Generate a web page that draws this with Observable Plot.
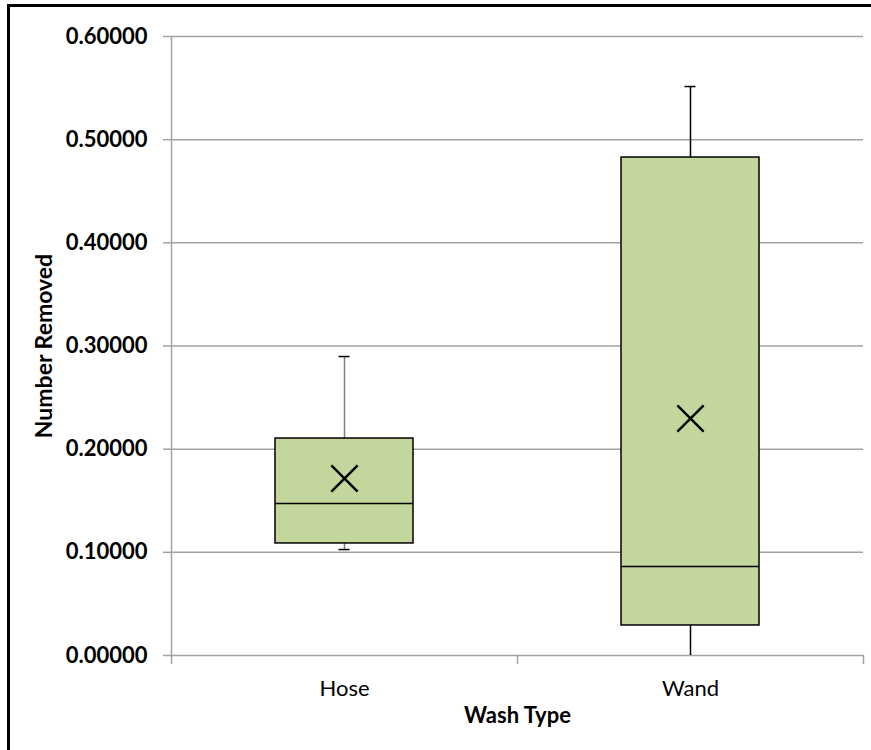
<!DOCTYPE html>
<html><head><meta charset="utf-8">
<script src="https://cdn.jsdelivr.net/npm/d3@7"></script>
<script src="https://cdn.jsdelivr.net/npm/@observablehq/plot@0.6"></script>
<style>
html,body{margin:0;padding:0;background:#fff;}
#wrap{position:relative;width:871px;height:750px;overflow:hidden;}
#frame{position:absolute;left:7px;top:4px;width:900px;height:800px;border-top:3px solid #000;border-left:3px solid #000;pointer-events:none;}
</style></head><body><div id="wrap"><div id="chart"></div><div id="frame"></div></div>
<script>
const categories = ["Hose", "Wand"];
const whiskerLow = [0.1027, 0.0];
const q1 = [0.1086, 0.0291];
const median = [0.1473, 0.0863];
const q3 = [0.2103, 0.4827];
const whiskerHigh = [0.2898, 0.5515];
const mean = [0.1716, 0.2297];
const whiskerColor = ["#7f7f7f", "#000000"];
const yTicks = [0, 0.1, 0.2, 0.3, 0.4, 0.5, 0.6];
const yLabel = "Number Removed";
const xLabel = "Wash Type";

const data = categories.map((c, i) => ({
  cat: c, lo: whiskerLow[i], q1: q1[i], med: median[i], q3: q3[i],
  hi: whiskerHigh[i], mean: mean[i], wc: whiskerColor[i]
}));

const W = 871, H = 750;
const mL = 171, mR = 8;
const band = (W - mL - mR) / categories.length;
const boxInset = (band - 138) / 2;
const capInset = (band - 11) / 2;
const gray = "#a3a3a3";

const chart = Plot.plot({
  width: W, height: H,
  marginTop: 36, marginBottom: 95, marginLeft: mL, marginRight: mR,
  style: {fontFamily: "Lato, sans-serif", background: "#fff", color: "#000"},
  x: {domain: categories, padding: 0, axis: null},
  y: {domain: [0, 0.6], axis: null},
  marks: [
    Plot.gridY(yTicks, {stroke: gray, strokeOpacity: 1, strokeWidth: 1.5}),
    Plot.ruleX([categories[0]], {dx: -band / 2, stroke: gray, strokeWidth: 1.5}),
    Plot.axisY(yTicks, {tickFormat: d => d.toFixed(5), tickSize: 8, tickPadding: 16, stroke: gray, strokeWidth: 1.5, fontSize: 22, fontWeight: "bold", label: null}),
    Plot.axisX(categories, {tickSize: 9, tickFormat: () => "", dx: -band / 2, stroke: gray, strokeWidth: 1.5, label: null}),
    Plot.axisX([categories[categories.length - 1]], {tickSize: 9, tickFormat: () => "", dx: band / 2, stroke: gray, strokeWidth: 1.5, label: null}),
    Plot.axisX(categories, {tickSize: 0, tickPadding: 25, fontSize: 22, label: null}),
    Plot.ruleX(data, {x: "cat", y1: "lo", y2: "q1", stroke: "wc", strokeWidth: 1.5}),
    Plot.ruleX(data, {x: "cat", y1: "q3", y2: "hi", stroke: "wc", strokeWidth: 1.5}),
    Plot.tickY(data, {x: "cat", y: "hi", stroke: "#000", strokeWidth: 1.5, insetLeft: capInset, insetRight: capInset}),
    Plot.tickY(data.filter(d => d.lo > 0), {x: "cat", y: "lo", stroke: "#000", strokeWidth: 1.5, insetLeft: capInset, insetRight: capInset}),
    Plot.barY(data, {x: "cat", y1: "q1", y2: "q3", fill: "#c3d69b", stroke: "#000", strokeWidth: 1.5, insetLeft: boxInset, insetRight: boxInset}),
    Plot.tickY(data, {x: "cat", y: "med", stroke: "#000", strokeWidth: 1.5, insetLeft: boxInset, insetRight: boxInset}),
    Plot.dot(data, {x: "cat", y: "mean", symbol: "times", r: 12, stroke: "#000", strokeWidth: 2.5}),
    Plot.text([yLabel], {frameAnchor: "left", rotate: -90, textAnchor: "middle", lineAnchor: "middle", dx: -127, fontSize: 23, fontWeight: "bold"}),
    Plot.text([xLabel], {frameAnchor: "bottom", lineAnchor: "bottom", dy: 67, dx: 0, fontSize: 22, fontWeight: "bold"})
  ]
});
document.getElementById("chart").appendChild(chart);
</script></body></html>
